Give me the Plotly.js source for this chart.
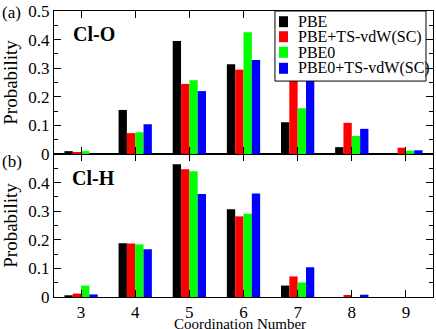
<!DOCTYPE html>
<html>
<head>
<meta charset="utf-8">
<script src="https://cdn.plot.ly/plotly-3.0.1.min.js"></script>
<style>
  html, body { margin: 0; padding: 0; background: #fff; }
  #plotArea { width: 436px; height: 329px; }
</style>
</head>
<body>
<div id="plotArea"></div>
<script>
var coordNumbers = [3, 4, 5, 6, 7, 8, 9];
var methodNames = ["PBE", "PBE+TS-vdW(SC)", "PBE0", "PBE0+TS-vdW(SC)"];
var methodColors = ["#000000", "#ff0000", "#00ff00", "#0000ff"];

// (a) Cl-O coordination
var clO_pbe     = [0.010, 0.154, 0.395, 0.314, 0.111, 0.024, 0.000];
var clO_pbeTs   = [0.007, 0.073, 0.245, 0.295, 0.270, 0.109, 0.022];
var clO_pbe0    = [0.010, 0.076, 0.258, 0.426, 0.160, 0.063, 0.011];
var clO_pbe0Ts  = [0.000, 0.104, 0.220, 0.329, 0.265, 0.088, 0.013];

// (b) Cl-H coordination
var clH_pbe     = [0.006, 0.188, 0.464, 0.307, 0.040, 0.000, 0.000];
var clH_pbeTs   = [0.012, 0.187, 0.447, 0.282, 0.072, 0.007, 0.000];
var clH_pbe0    = [0.040, 0.184, 0.440, 0.291, 0.051, 0.000, 0.000];
var clH_pbe0Ts  = [0.009, 0.167, 0.360, 0.362, 0.104, 0.008, 0.000];

var clOSeries = [clO_pbe, clO_pbeTs, clO_pbe0, clO_pbe0Ts];
var clHSeries = [clH_pbe, clH_pbeTs, clH_pbe0, clH_pbe0Ts];

var serif = "Liberation Serif, Times New Roman, serif";

var traces = [];
for (var i = 0; i < methodNames.length; i++) {
  traces.push({
    x: coordNumbers, y: clOSeries[i], type: "bar", name: methodNames[i],
    marker: {color: methodColors[i], line: {width: 0}},
    xaxis: "x2", yaxis: "y2"
  });
}
for (var i = 0; i < methodNames.length; i++) {
  traces.push({
    x: coordNumbers, y: clHSeries[i], type: "bar", name: methodNames[i],
    marker: {color: methodColors[i], line: {width: 0}},
    xaxis: "x", yaxis: "y"
  });
}

var xCommon = {
  range: [2.5, 9.5], dtick: 1, tick0: 3, ticks: "inside", ticklen: 7,
  tickcolor: "#000", showline: true, linecolor: "#000", linewidth: 1,
  mirror: "ticks", showgrid: false, zeroline: false,
  tickfont: {family: serif, size: 17, color: "#000"}
};
var yCommon = {
  range: [0, 0.5], ticks: "inside", ticklen: 7, tickcolor: "#000",
  showline: true, linecolor: "#000", linewidth: 1, mirror: "allticks",
  showgrid: false, zeroline: false,
  minor: {dtick: 0.05, tick0: 0, ticks: "inside", ticklen: 4, tickcolor: "#000"},
  tickfont: {family: serif, size: 17, color: "#000"},
  title: {text: "Probability", font: {family: serif, size: 19, color: "#000"}}
};

// hand-made legend (the built-in one can't pack rows this tightly)
var legendShapes = [{
  type: "rect", xref: "paper", yref: "paper", x0: 0.583, x1: 0.9815, y0: 0.755, y1: 1.0,
  fillcolor: "#fff", line: {color: "#000", width: 1}
}];
var legendNotes = [];
var rowY = [0.9626, 0.9101, 0.8556, 0.7997];
for (var i = 0; i < methodNames.length; i++) {
  legendShapes.push({
    type: "rect", xref: "paper", yref: "paper", x0: 0.5937, x1: 0.6174,
    y0: rowY[i] - 0.0192, y1: rowY[i] + 0.0192,
    fillcolor: methodColors[i], line: {width: 0}
  });
  legendNotes.push({
    text: methodNames[i], xref: "paper", yref: "paper", x: 0.6385, y: rowY[i],
    xanchor: "left", yanchor: "middle", showarrow: false,
    font: {family: serif, size: 16, color: "#000"}
  });
}

var layout = {
  width: 436, height: 329,
  margin: {l: 54, r: 3, t: 11, b: 32},
  paper_bgcolor: "#fff", plot_bgcolor: "#fff",
  barmode: "group", bargap: 0.385, bargroupgap: 0,
  showlegend: false,
  xaxis: Object.assign({}, xCommon, {anchor: "y"}),
  xaxis2: Object.assign({}, xCommon, {anchor: "y2", showticklabels: false, matches: "x"}),
  yaxis: Object.assign({}, yCommon, {domain: [0, 0.5], anchor: "x", tickmode: "array",
    tickvals: [0, 0.1, 0.2, 0.3, 0.4]}),
  yaxis2: Object.assign({}, yCommon, {domain: [0.5, 1], anchor: "x2", dtick: 0.1, tick0: 0}),
  shapes: legendShapes,
  annotations: [
    {text: "Coordination Number", xref: "paper", yref: "paper", x: 0.49, y: -0.094,
     xanchor: "center", yanchor: "middle", showarrow: false,
     font: {family: serif, size: 15, color: "#000"}},
    {text: "(a)", xref: "paper", yref: "paper", x: -0.143, y: 1.035, xanchor: "left", yanchor: "top",
     showarrow: false, font: {family: serif, size: 17, color: "#000"}},
    {text: "(b)", xref: "paper", yref: "paper", x: -0.143, y: 0.515, xanchor: "left", yanchor: "top",
     showarrow: false, font: {family: serif, size: 17, color: "#000"}},
    {text: "<b>Cl-O</b>", xref: "paper", yref: "paper", x: 0.045, y: 0.92, xanchor: "left", yanchor: "middle",
     showarrow: false, font: {family: serif, size: 20, color: "#000"}},
    {text: "<b>Cl-H</b>", xref: "paper", yref: "paper", x: 0.043, y: 0.415, xanchor: "left", yanchor: "middle",
     showarrow: false, font: {family: serif, size: 20, color: "#000"}}
  ].concat(legendNotes)
};

Plotly.newPlot("plotArea", traces, layout, {staticPlot: true});
</script>
</body>
</html>
